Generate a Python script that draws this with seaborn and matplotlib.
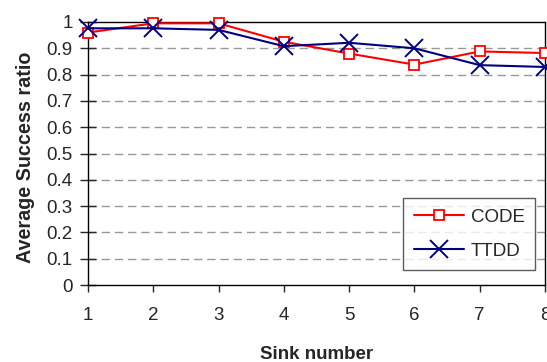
import matplotlib
matplotlib.use("Agg")
import matplotlib.pyplot as plt
import seaborn as sns
import pandas as pd

sinks = [1, 2, 3, 4, 5, 6, 7, 8]
code_vals = [0.960, 0.995, 0.995, 0.925, 0.880, 0.838, 0.888, 0.882]
ttdd_vals = [0.976, 0.976, 0.970, 0.908, 0.921, 0.900, 0.836, 0.829]
yticks = [0, 0.1, 0.2, 0.3, 0.4, 0.5, 0.6, 0.7, 0.8, 0.9, 1]
ytick_labels = ["0", "0.1", "0.2", "0.3", "0.4", "0.5", "0.6", "0.7", "0.8", "0.9", "1"]

sns.set_style("white")
plt.rcParams['font.family'] = ['Liberation Sans', 'DejaVu Sans']

df = pd.DataFrame({
    "Sink number": sinks * 2,
    "ratio": code_vals + ttdd_vals,
    "series": ["CODE"] * len(sinks) + ["TTDD"] * len(sinks),
})

fig = plt.figure(figsize=(5.47, 3.62), dpi=100)
ax = fig.add_axes([88/547, 1-285/362, (545-88)/547, (285-22)/362])

for y in yticks[1:-1]:
    ax.axhline(y, color="#999999", linestyle=(0, (6, 3.5)), linewidth=1.0, zorder=0)

sns.lineplot(data=df[df.series == "CODE"], x="Sink number", y="ratio", ax=ax,
             color="#ff0000", marker="s", markersize=7, markerfacecolor="white",
             markeredgecolor="#ff0000", markeredgewidth=1.3, linewidth=1.5,
             label="CODE", clip_on=False, zorder=3)
sns.lineplot(data=df[df.series == "TTDD"], x="Sink number", y="ratio", ax=ax,
             color="#000080", marker="x", markersize=13,
             markeredgecolor="#000080", markeredgewidth=1.4, linewidth=1.5,
             label="TTDD", clip_on=False, zorder=4)

ax.set_xlim(1, 8)
ax.set_ylim(0, 1)
ax.set_xticks(sinks)
ax.set_xticklabels([str(s) for s in sinks])
ax.set_yticks(yticks)
ax.set_yticklabels(ytick_labels)
ax.tick_params(axis="y", direction="inout", length=12, width=1, labelsize=13.5, pad=5, left=True)
ax.tick_params(axis="x", direction="out", length=5, width=1, labelsize=13.5, pad=11, bottom=True)
for s in ax.spines.values():
    s.set_color("black")
    s.set_linewidth(1.0)

ax.set_xlabel("Sink number", fontsize=13.5, fontweight="bold", labelpad=16)
ax.set_ylabel("Average Success ratio", fontsize=14.2, fontweight="bold", labelpad=8)
ax.yaxis.set_label_coords(-0.117, 0.485)

leg = ax.legend(loc="lower right", bbox_to_anchor=(535/547, 1-270/362), bbox_transform=fig.transFigure,
                borderaxespad=0, fontsize=13.5, frameon=True, fancybox=False, handlelength=2.7,
                borderpad=0.55, labelspacing=0.9, handletextpad=0.35)
leg.get_frame().set_edgecolor("#333333")
leg.get_frame().set_linewidth(1.0)

fig.savefig("out.png", dpi=100)
